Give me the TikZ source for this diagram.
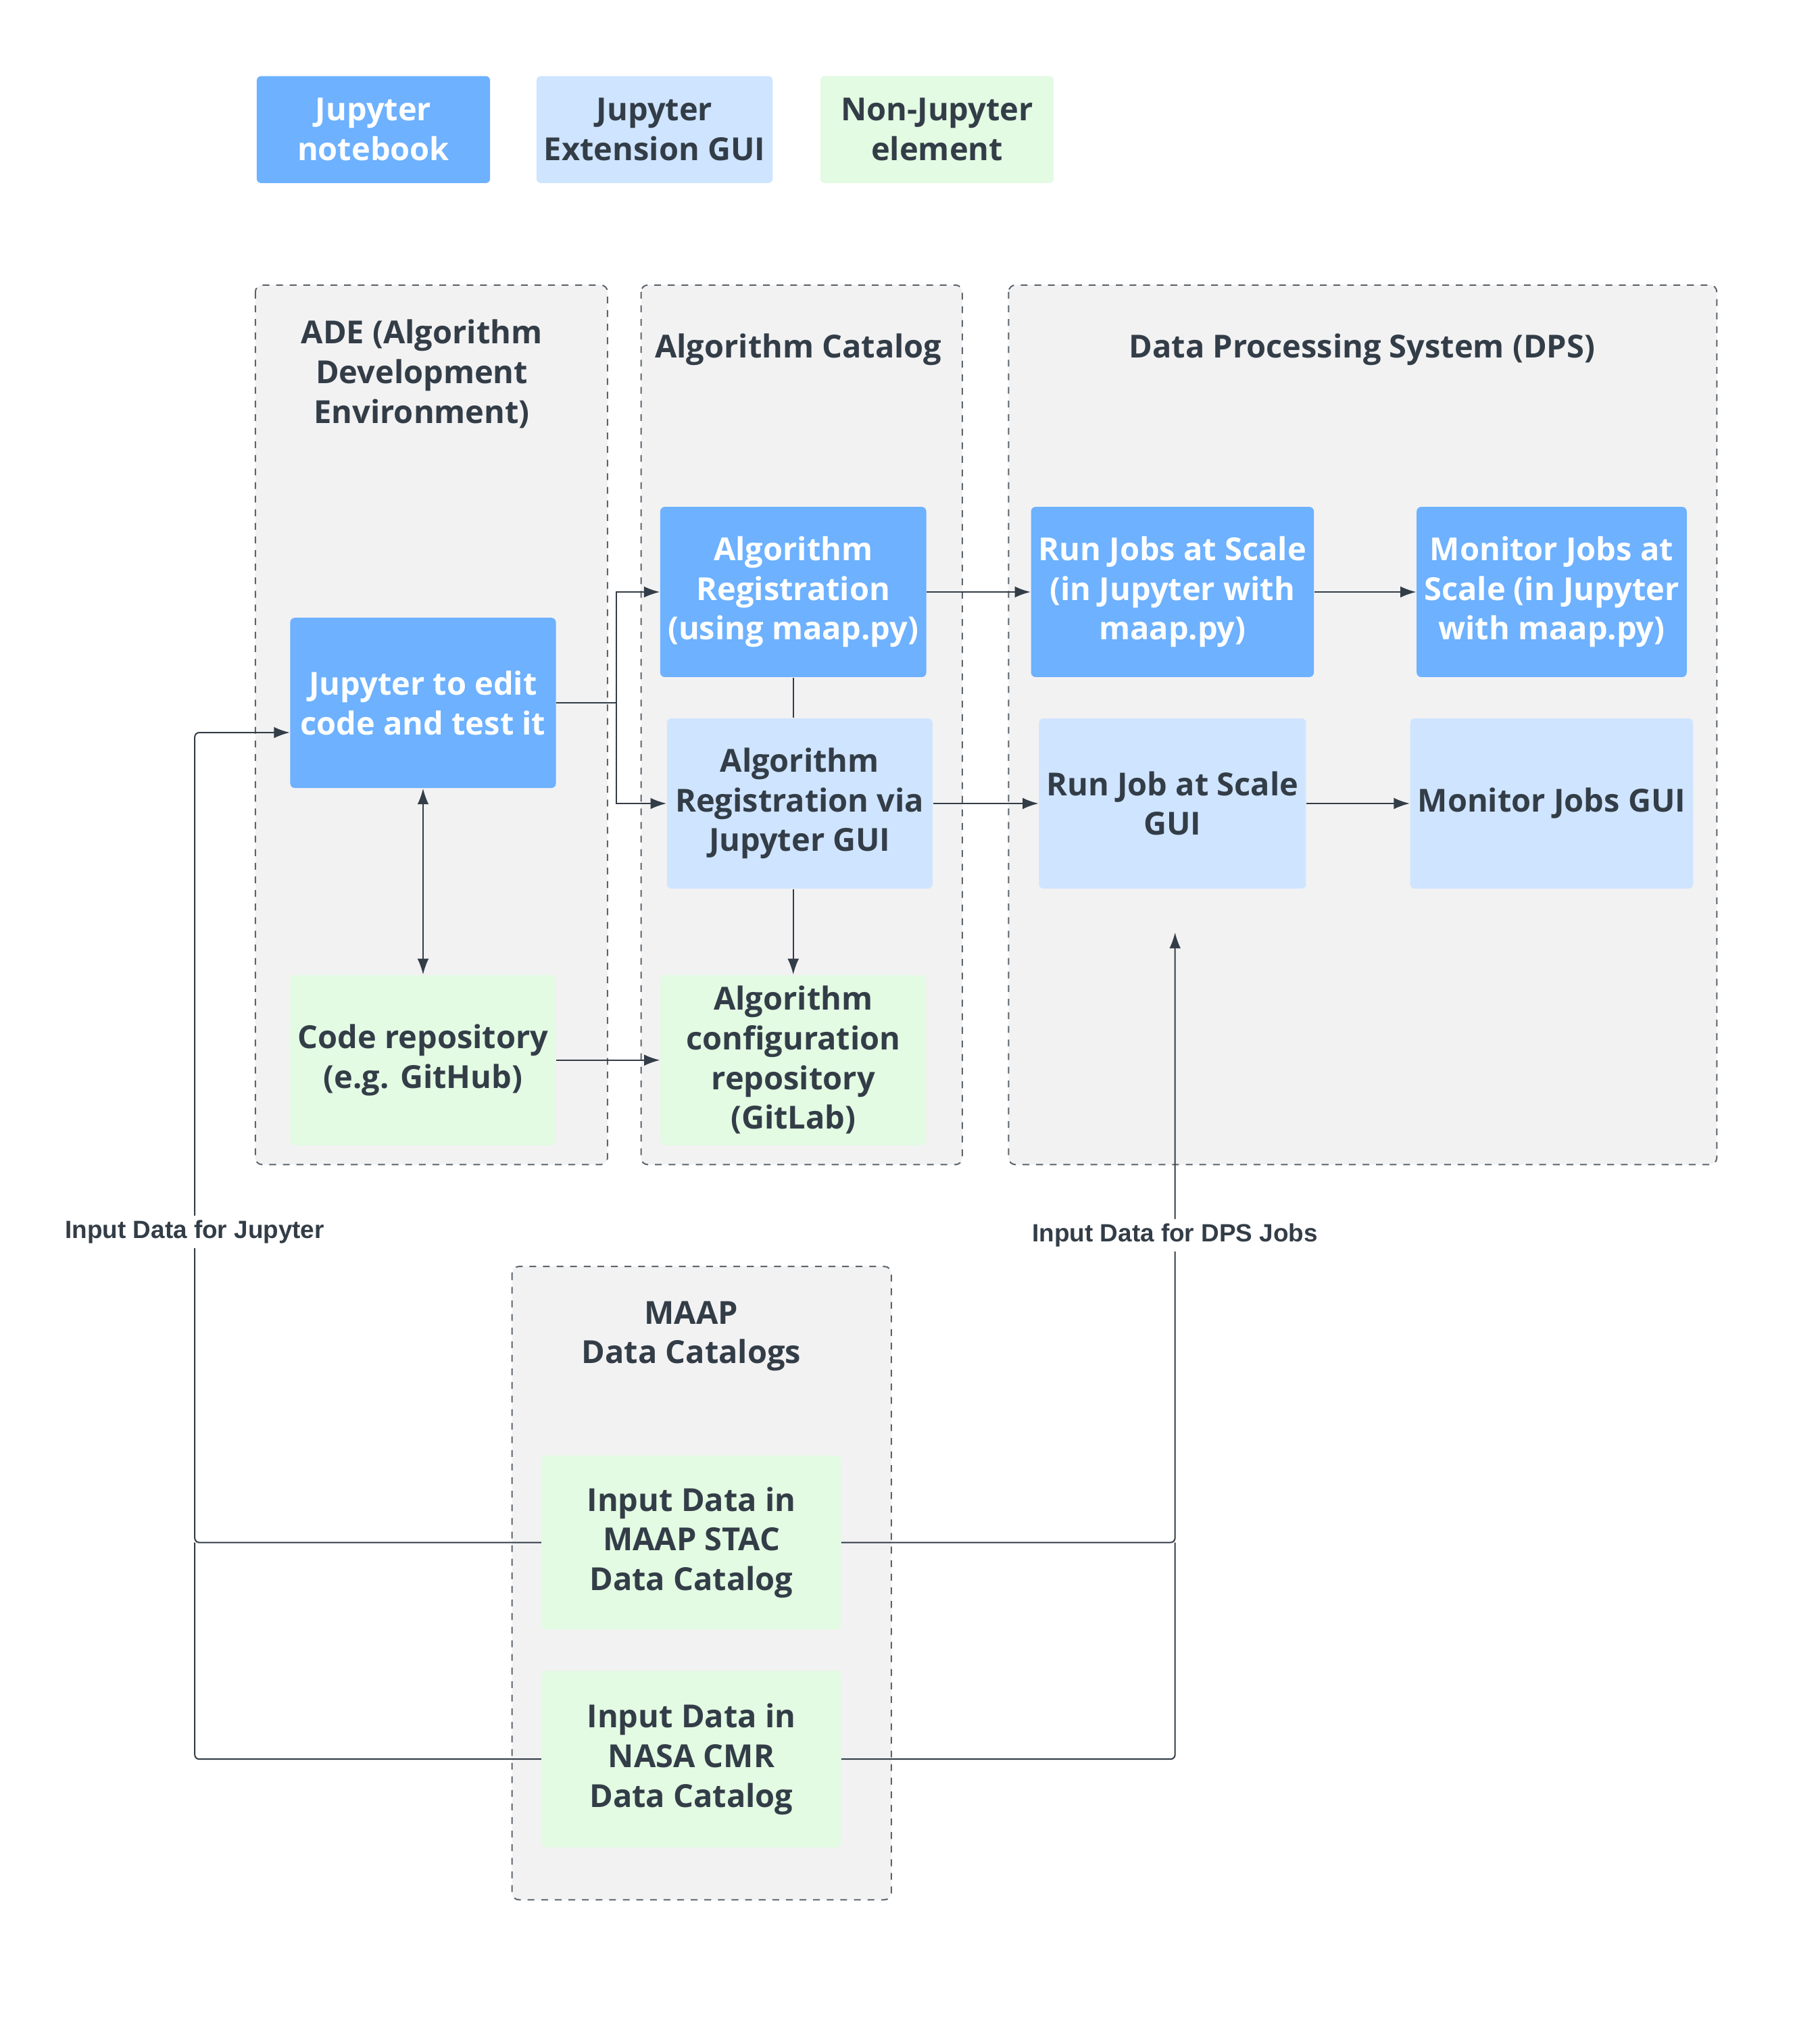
\documentclass[tikz,border=0pt]{standalone}
\usepackage{fontspec}
\setmainfont{Open Sans}
\newfontfamily\lblfont{Liberation Sans}
\usetikzlibrary{arrows.meta,positioning}
\definecolor{nbblue}{HTML}{6DB1FF}
\definecolor{guiblue}{HTML}{CFE4FF}
\definecolor{nongreen}{HTML}{E3FAE3}
\definecolor{txtgray}{HTML}{333D47}
\definecolor{panel}{HTML}{F2F2F3}
\tikzset{
  box/.style={rounded corners=2pt,minimum width=4.12cm,minimum height=2.64cm,align=center,
    font=\fontsize{14}{17.5}\selectfont\bfseries,text=txtgray},
  nb/.style={box,fill=nbblue,text=white},
  gui/.style={box,fill=guiblue},
  non/.style={box,fill=nongreen},
  group/.style={draw=txtgray!80,dashed,rounded corners=3pt,fill=panel,line width=0.6pt},
  title/.style={align=center,font=\fontsize{14}{17.5}\selectfont\bfseries,text=txtgray},
  link/.style={draw=txtgray,line width=0.6pt,-{Latex[length=7pt,width=5pt]}},
  plain/.style={draw=txtgray,line width=0.6pt},
  lbl/.style={font=\lblfont\fontsize{11}{13}\selectfont\bfseries,text=txtgray,fill=white,inner sep=2pt}
}
\begin{document}
\begin{tikzpicture}[x=0.02cm,y=-0.02cm]
\useasboundingbox[fill=white] (0,0) rectangle (1411,1574);
% legend
\node[nb,minimum width=3.62cm,minimum height=1.66cm] (legnb) at (289.5,100.5) {Jupyter\\notebook};
\node[gui,minimum width=3.62cm,minimum height=1.66cm] (leggui) at (507.5,100.5) {Jupyter\\Extension GUI};
\node[non,minimum width=3.62cm,minimum height=1.66cm] (legnon) at (726.5,100.5) {Non-Jupyter\\element};
% groups
\draw[group] (198,221) rectangle (471,903);
\draw[group] (497,221) rectangle (746,903);
\draw[group] (782,221) rectangle (1331,903);
\draw[group] (397,982) rectangle (691,1473);
\node[title] (tade) at (327,290) {ADE (Algorithm\\Development\\Environment)};
\node[title] (tcat) at (619,271) {Algorithm Catalog};
\node[title] (tdps) at (1056,271) {Data Processing System (DPS)};
\node[title] (tmaap) at (536,1036) {MAAP\\Data Catalogs};
% nodes
\node[nb] (jedit) at (328,545) {Jupyter to edit\\code and test it};
\node[non] (coderepo) at (328,822) {Code repository\\(e.g. GitHub)};
\node[nb] (areg) at (615,459) {Algorithm\\Registration\\(using maap.py)};
\node[gui] (aregui) at (620,623) {Algorithm\\Registration via\\Jupyter GUI};
\node[non] (aconf) at (615,822) {Algorithm\\configuration\\repository\\(GitLab)};
\node[nb] (runjobs) at (909,459) {Run Jobs at Scale\\(in Jupyter with\\maap.py)};
\node[nb] (monjobs) at (1203,459) {Monitor Jobs at\\Scale (in Jupyter\\with maap.py)};
\node[gui] (rungui) at (909,623) {Run Job at Scale\\GUI};
\node[gui] (mongui) at (1203,623) {Monitor Jobs GUI};
\node[non,minimum width=4.64cm,minimum height=2.7cm] (stac) at (536,1196) {Input Data in\\MAAP STAC\\Data Catalog};
\node[non,minimum width=4.64cm,minimum height=2.74cm] (cmr) at (536,1364) {Input Data in\\NASA CMR\\Data Catalog};
\coordinate (dpsin) at (911,723);
% connectors
\draw[link] (jedit.east) -| (478,459) -- (areg.west);
\draw[link] (jedit.east) -| (478,623) -- (aregui.west);
\draw[link,{Latex[length=7pt,width=5pt]}-{Latex[length=7pt,width=5pt]}] (jedit.south) -- (coderepo.north);
\draw[link] (areg) -- (runjobs);
\draw[link] (runjobs) -- (monjobs);
\draw[plain] (areg.south) -- (areg.south |- aregui.north);
\draw[link] (aregui.south -| aconf.north) -- (aconf.north);
\draw[link] (coderepo) -- (aconf);
\draw[link] (aregui) -- (rungui);
\draw[link] (rungui) -- (mongui);
\draw[link,rounded corners=2pt] (stac.west) -| (151,568) -- (jedit.west |- 0,568);
\draw[plain,rounded corners=2pt] (cmr.west) -| (151,1196);
\draw[link,rounded corners=2pt] (stac.east) -| (dpsin);
\draw[plain,rounded corners=2pt] (cmr.east) -| (911,1196);
\node[lbl] (ljup) at (151,955) {Input Data for Jupyter};
\node[lbl] (ldps) at (911,958) {Input Data for DPS Jobs};
\end{tikzpicture}
\end{document}
